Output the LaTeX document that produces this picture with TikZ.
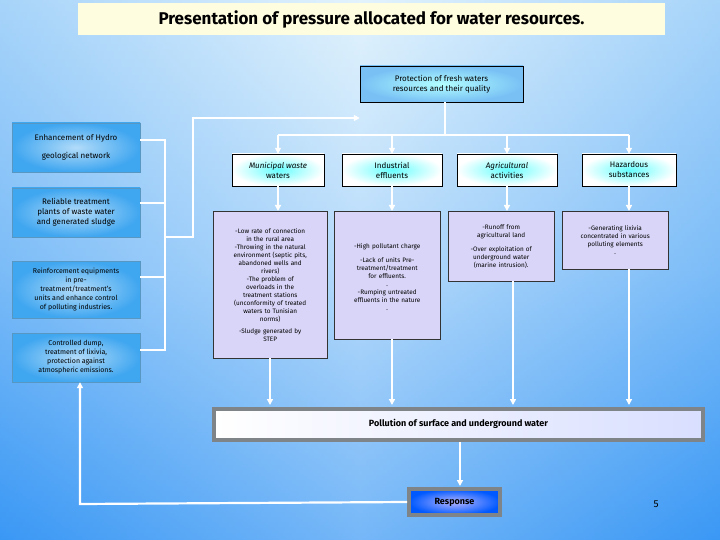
\documentclass[tikz,border=0pt]{standalone}
\usepackage{fontspec}
\setmainfont{Fira Sans}
\usetikzlibrary{arrows.meta}
\definecolor{bgtop}{HTML}{D6EEFC}
\definecolor{bgbot}{HTML}{3A98F5}
\definecolor{bluebox}{HTML}{3FA6F0}
\definecolor{lav}{HTML}{D9D5F8}
\definecolor{gborder}{HTML}{7F8488}
\begin{document}
\begin{tikzpicture}[x=1pt,y=-1pt,
  wl/.style={draw=white,line width=2.2pt},
  wa/.style={wl,-{Triangle[width=6pt,length=6pt]}},
  lbox/.style={draw=bluebox!60!gray,inner color=white!60!bluebox,outer color=bluebox,align=center,font=\fontsize{8}{10}\selectfont},
  cbox/.style={draw=black,inner color=cyan!60!white,outer color=white,align=center,font=\fontsize{8}{10}\selectfont},
  dbox/.style={draw=black!80,fill=lav,align=center,font=\fontsize{6.4}{8}\selectfont,anchor=north west,inner sep=2pt}]
\useasboundingbox (0,0) rectangle (720,540);
\shade[top color=bgtop,bottom color=bgbot,middle color=bgtop!60!bgbot] (0,0) rectangle (720,540);
\shade[left color=bgbot,right color=bgbot,middle color=white,opacity=0.3] (0,0) rectangle (720,540);
% title
\node[draw=none,fill=yellow!12,minimum width=587pt,minimum height=32pt,font=\fontsize{17}{20}\selectfont\bfseries] (title) at (371.5,19) {Presentation of pressure allocated for water resources.};
% protection
\node[draw=black,inner color=cyan!30!white,outer color=bluebox!70,minimum width=163pt,minimum height=36pt,align=center,font=\fontsize{8}{10}\selectfont] (prot) at (441.5,84) {Protection of fresh waters\\resources and their quality};
% left boxes
\node[lbox,minimum width=128pt,minimum height=49pt] (l1) at (76,147.5) {Enhancement of Hydro\\[8pt]geological network};
\node[lbox,minimum width=128pt,minimum height=49pt] (l2) at (76,212.5) {Reliable treatment\\plants of waste water\\and generated sludge};
\node[lbox,minimum width=128pt,minimum height=57pt,font=\fontsize{7}{9}\selectfont] (l3) at (76,289.5) {Reinforcement equipments\\in pre-\\treatment/treatment's\\units and enhance control\\of polluting industries.};
\node[lbox,minimum width=128pt,minimum height=49pt,font=\fontsize{7}{9}\selectfont] (l4) at (76,357.5) {Controlled dump,\\treatment of lixivia,\\protection against\\atmospheric emissions.};
% category boxes
\node[cbox,minimum width=92pt,minimum height=32pt] (c1) at (278,170) {\textit{Municipal waste}\\waters};
\node[cbox,minimum width=100pt,minimum height=32pt] (c2) at (392,170) {Industrial\\effluents};
\node[cbox,minimum width=100pt,minimum height=32pt] (c3) at (507,170) {\textit{Agricultural}\\activities};
\node[cbox,minimum width=94pt,minimum height=32pt] (c4) at (629,170) {Hazardous\\substances};
% description boxes
\node[dbox,minimum width=114pt,minimum height=147pt,text width=108pt] (d1) at (213,211) {-Low rate of connection\\in the rural area\\-Throwing in the natural\\environment (septic pits,\\abandoned wells and\\rivers)\\-The problem of\\overloads in the\\treatment stations\\(unconformity of treated\\waters to Tunisian\\norms)\\[4pt]-Sludge generated by\\STEP};
\node[dbox,minimum width=106pt,minimum height=128pt,text width=100pt] (d2) at (334,211) {\\-High pollutant charge\\[6pt]-Lack of units Pre-\\treatment/treatment\\for effluents.\\.\\-Rumping untreated\\effluents in the nature\\.};
\node[dbox,minimum width=106pt,minimum height=70pt,text width=100pt] (d3) at (448,211) {-Runoff from\\agricultural land\\[6pt]-Over exploitation of\\underground water\\(marine intrusion).};
\node[dbox,minimum width=106pt,minimum height=58pt,text width=100pt] (d4) at (562,211) {-Generating lixivia\\concentrated in various\\polluting elements\\.};
% pollution & response
\node[draw=gborder,line width=4pt,left color=white,right color=cyan!15!blue!15!white,minimum width=489pt,minimum height=31pt,font=\fontsize{9}{11}\selectfont\bfseries] (pol) at (458.5,424.5) {\raisebox{3pt}{Pollution of surface and underground water}};
\node[draw=gborder,line width=4pt,inner color=white!70!blue,outer color=blue!65!cyan,minimum width=91pt,minimum height=26pt,font=\fontsize{9}{11}\selectfont\bfseries] (resp) at (454.5,502) {Response};
\node[font=\fontsize{10}{12}\selectfont] (num) at (656,504) {5};
% connectors
\coordinate (bx) at (165,237);
\coordinate (rc) at (80,504);
\draw[wl] (l1.east|-0,140) -- (165,140) -- (165,350) -- (l4.east|-0,350);
\draw[wl] (l2.east|-0,203) -- (165,203);
\draw[wl] (l3.east|-0,277) -- (165,277);
\draw[wa] (bx) -- (193,237) -- (193,118) -- (prot.west|-0,118);
\draw[wl] (prot.south-|445,0) -- (445,135);
\draw[wl] (278,135) -- (629,135);
\draw[wa] (278,135) -- (c1.north);
\draw[wa] (392,135) -- (c2.north);
\draw[wa] (507,135) -- (c3.north);
\draw[wa] (629,135) -- (c4.north);
\draw[wa] (c1.south) -- (d1.north-|c1.south);
\draw[wa] (c2.south) -- (d2.north-|c2.south);
\draw[wa] (c3.south) -- (d3.north-|c3.south);
\draw[wa] (c4.south) -- (d4.north-|c4.south);
\draw[wa] (270,358) -- (270,405);
\draw[wa] (392,339) -- (392,405);
\draw[wa] (513,281) -- (513,405);
\draw[wa] (629,269) -- (629,405);
\draw[wa] (pol.south-|460,0) -- (460,486);
\draw[wa] (resp.west) -- (rc) -- (rc|-l4.south);
\end{tikzpicture}
\end{document}
